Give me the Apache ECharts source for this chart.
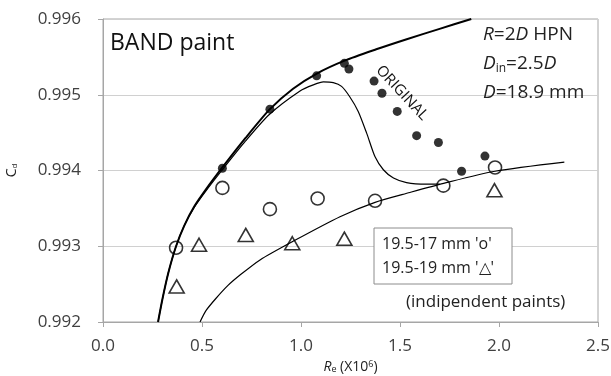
<!DOCTYPE html>
<html>
<head>
<meta charset="utf-8">
<script src="https://cdn.jsdelivr.net/npm/echarts@6/dist/echarts.min.js"></script>
<style>
  html, body { margin: 0; padding: 0; background: #fff; }
  #main { width: 611px; height: 376px; }
</style>
</head>
<body>
<div id="main"></div>
<script>
// ORIGINAL paint (filled dots)
var origX = [0.603, 0.843, 1.079, 1.219, 1.242, 1.369, 1.409, 1.486, 1.584, 1.694, 1.811, 1.929];
var origY = [0.99403, 0.99481, 0.99525, 0.995415, 0.99534, 0.99518, 0.99502, 0.99478, 0.99446, 0.99437, 0.99399, 0.99419];
// 19.5-17 mm 'o'
var circX = [0.369, 0.603, 0.843, 1.084, 1.374, 1.719, 1.98];
var circY = [0.99298, 0.99377, 0.99349, 0.99363, 0.9936, 0.9938, 0.99404];
// 19.5-19 mm triangles
var triX = [0.372, 0.485, 0.721, 0.956, 1.219, 1.977];
var triY = [0.99247, 0.99302, 0.99315, 0.99304, 0.9931, 0.99374];
// thick fit curve through the original points
var fitX = [0.278, 0.30, 0.33, 0.369, 0.41, 0.46, 0.52, 0.60, 0.72, 0.843, 0.96, 1.08, 1.22, 1.38, 1.53, 1.70, 1.86];
var fitY = [0.992, 0.9923, 0.99265, 0.993, 0.99327, 0.99352, 0.99375, 0.99403, 0.99443, 0.99481, 0.99508, 0.99528, 0.99545, 0.9956, 0.99573, 0.99587, 0.996];
// thin measured curve
var measX = [0.278, 0.30, 0.33, 0.369, 0.41, 0.46, 0.52, 0.60, 0.72, 0.84, 0.995, 1.062, 1.113, 1.163, 1.205, 1.247, 1.289, 1.332, 1.374, 1.416, 1.467, 1.533, 1.634, 1.70];
var measY = [0.992, 0.9923, 0.99265, 0.993, 0.99327, 0.99351, 0.99373, 0.994, 0.99439, 0.99474, 0.99505, 0.99513, 0.99517, 0.99516, 0.99511, 0.99497, 0.99478, 0.99449, 0.99418, 0.99401, 0.9939, 0.99384, 0.99382, 0.99382];
// lower curve
var lowX = [0.49, 0.52, 0.57, 0.63, 0.692, 0.793, 0.956, 1.197, 1.374, 1.55, 1.72, 1.98, 2.33];
var lowY = [0.992, 0.99215, 0.99231, 0.99248, 0.99262, 0.99282, 0.99306, 0.99339, 0.99358, 0.99371, 0.99383, 0.99399, 0.99411];

var xTicks = [0, 2.5, 0.5];
var yTicks = [0.992, 0.996, 0.001];

function pairs(xs, ys) {
  return xs.map(function (x, i) { return [x, ys[i]]; });
}

var font = '"Open Sans", sans-serif';
var myChart = echarts.init(document.getElementById('main'));

var option = {
  animation: false,
  grid: {
    left: 103, right: 13, top: 19, bottom: 54,
    outerBoundsMode: 'none',
    show: true, borderColor: '#a6a6a6', borderWidth: 1
  },
  xAxis: {
    type: 'value',
    min: xTicks[0], max: xTicks[1], interval: xTicks[2],
    axisLine: { show: true, lineStyle: { color: '#a6a6a6' } },
    axisTick: { show: true, length: 5, lineStyle: { color: '#a6a6a6' } },
    splitLine: { show: false },
    axisLabel: {
      fontFamily: font, fontSize: 17, color: '#404040', margin: 16,
      formatter: function (v) { return v.toFixed(1); }
    },
    name: '{i|R}{sub|e} (X10{sup|6})',
    nameLocation: 'middle',
    nameGap: 36,
    nameTextStyle: {
      fontFamily: font, fontSize: 14, color: '#222',
      rich: {
        i: { fontFamily: font, fontSize: 14, fontStyle: 'italic', color: '#222' },
        sub: { fontFamily: font, fontSize: 9, color: '#222', padding: [5, 0, 0, 0] },
        sup: { fontFamily: font, fontSize: 9, color: '#222', padding: [0, 0, 5, 0] }
      }
    }
  },
  yAxis: {
    type: 'value',
    min: yTicks[0], max: yTicks[1], interval: yTicks[2],
    axisLine: { show: true, lineStyle: { color: '#a6a6a6' } },
    axisTick: { show: true, length: 5, lineStyle: { color: '#a6a6a6' } },
    splitLine: { show: true, lineStyle: { color: '#d0d0d0', width: 1 } },
    axisLabel: {
      fontFamily: font, fontSize: 17, color: '#404040', margin: 22,
      formatter: function (v) { return v.toFixed(3); }
    },
    name: 'C{sub|d}',
    nameLocation: 'middle',
    nameGap: 84,
    nameRotate: 90,
    nameTextStyle: {
      fontFamily: font, fontSize: 14, color: '#222',
      rich: { sub: { fontFamily: font, fontSize: 8, color: '#222', padding: [6, 0, 0, 0] } }
    }
  },
  series: [
    {
      type: 'line', data: pairs(fitX, fitY), smooth: 0.25, symbol: 'none',
      lineStyle: { color: '#000', width: 2 }, z: 2
    },
    {
      type: 'line', data: pairs(measX, measY), smooth: 0.25, symbol: 'none',
      lineStyle: { color: '#000', width: 1.2 }, z: 2
    },
    {
      type: 'line', data: pairs(lowX, lowY), smooth: 0.25, symbol: 'none',
      lineStyle: { color: '#000', width: 1.2 }, z: 2
    },
    {
      type: 'scatter', data: pairs(origX, origY), symbol: 'circle', symbolSize: 9,
      itemStyle: { color: '#000' }, z: 3
    },
    {
      type: 'scatter', data: pairs(circX, circY), symbol: 'circle', symbolSize: 13,
      itemStyle: { color: 'transparent', borderColor: '#000', borderWidth: 1.6 }, z: 3
    },
    {
      type: 'scatter', data: pairs(triX, triY), symbol: 'triangle', symbolSize: [15, 13],
      itemStyle: { color: 'transparent', borderColor: '#000', borderWidth: 1.6 }, z: 3
    }
  ],
  graphic: [
    {
      type: 'text', x: 110, y: 43, z: 10,
      style: { text: 'BAND paint', fontFamily: font, fontSize: 23, fill: '#111', verticalAlign: 'middle' }
    },
    {
      type: 'text', x: 483, y: 35, z: 10,
      style: {
        text: '{i|R}=2{i|D} HPN', fontFamily: font, fontSize: 19, fill: '#222', verticalAlign: 'middle',
        rich: { i: { fontFamily: font, fontSize: 19, fontStyle: 'italic', fill: '#222' } }
      }
    },
    {
      type: 'text', x: 483, y: 64, z: 10,
      style: {
        text: '{i|D}{sub|in}=2.5{i|D}', fontFamily: font, fontSize: 19, fill: '#222', verticalAlign: 'middle',
        rich: {
          i: { fontFamily: font, fontSize: 19, fontStyle: 'italic', fill: '#222' },
          sub: { fontFamily: font, fontSize: 12, fill: '#222', padding: [10, 0, 0, 0] }
        }
      }
    },
    {
      type: 'text', x: 483, y: 93, z: 10,
      style: {
        text: '{i|D}=18.9 mm', fontFamily: font, fontSize: 19, fill: '#222', verticalAlign: 'middle',
        rich: { i: { fontFamily: font, fontSize: 19, fontStyle: 'italic', fill: '#222' } }
      }
    },
    {
      type: 'text', x: 402, y: 93, rotation: -47 * Math.PI / 180, z: 10,
      style: { text: 'ORIGINAL', fontFamily: font, fontSize: 15, fill: '#111', align: 'center', verticalAlign: 'middle' }
    },
    {
      type: 'rect', z: 10,
      shape: { x: 374, y: 228, width: 138, height: 56 },
      style: { fill: '#fff', stroke: '#8c8c8c', lineWidth: 1 }
    },
    {
      type: 'text', x: 382, y: 244, z: 11,
      style: { text: "19.5-17 mm 'o'", fontFamily: font, fontSize: 16, fill: '#222', verticalAlign: 'middle' }
    },
    {
      type: 'text', x: 382, y: 268, z: 11,
      style: { text: "19.5-19 mm '\u25B3'", fontFamily: font, fontSize: 16, fill: '#222', verticalAlign: 'middle' }
    },
    {
      type: 'text', x: 406, y: 302, z: 10,
      style: { text: '(indipendent paints)', fontFamily: font, fontSize: 17, fill: '#222', verticalAlign: 'middle' }
    }
  ]
};

myChart.setOption(option);
</script>
</body>
</html>
